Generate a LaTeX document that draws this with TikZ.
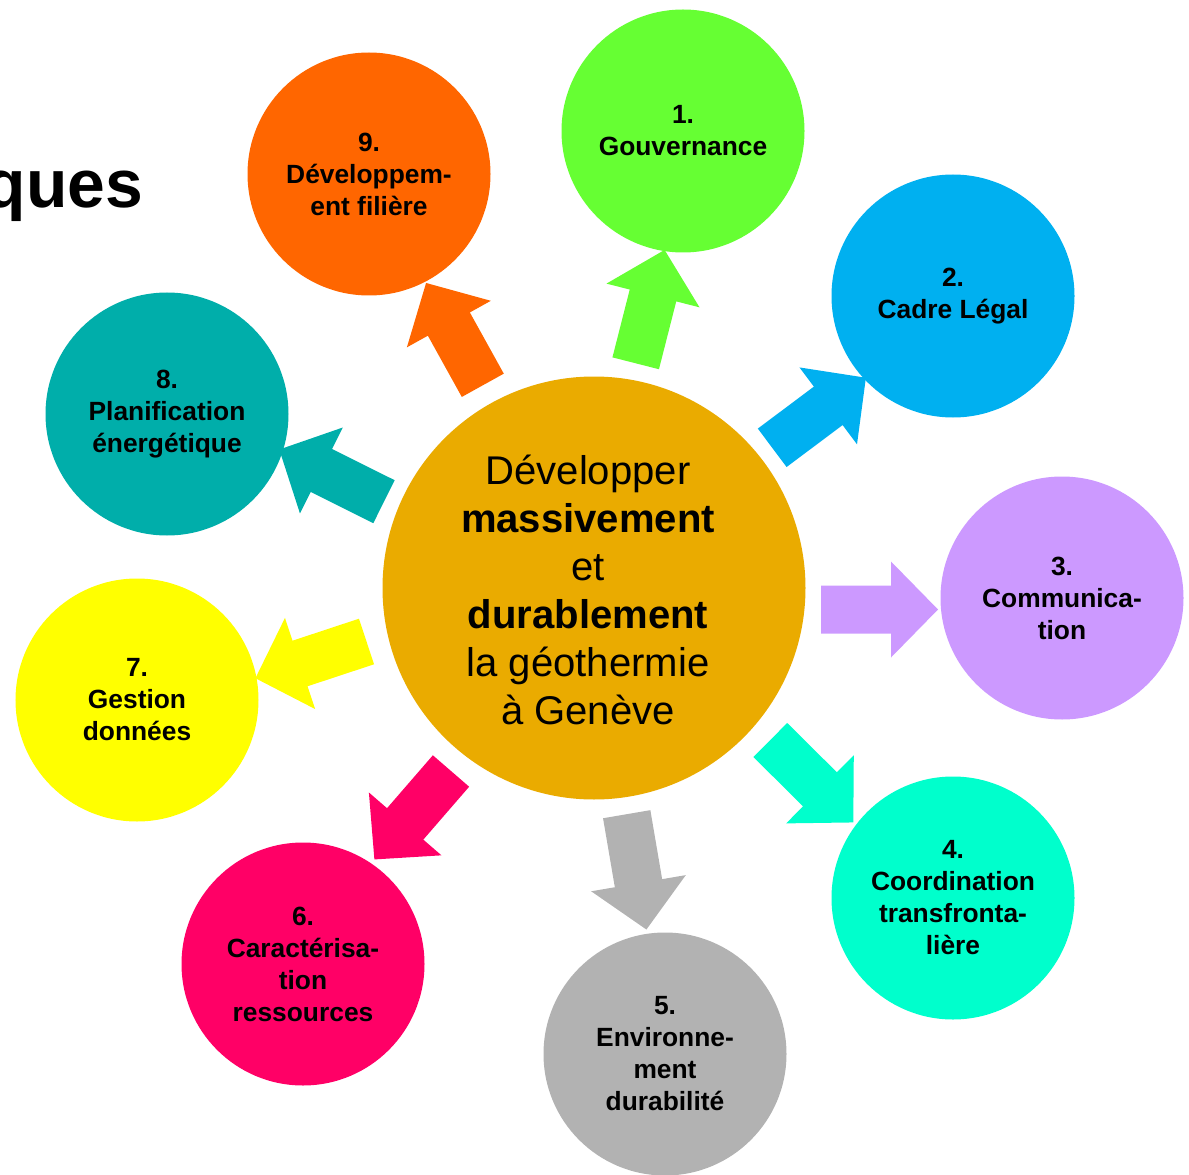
\documentclass[tikz,border=0pt]{standalone}
\usepackage{fontspec}
\setmainfont{Liberation Sans}

\definecolor{govgreen}{HTML}{66FF33}
\definecolor{lawblue}{HTML}{00B0F0}
\definecolor{compurple}{HTML}{CC99FF}
\definecolor{coordcyan}{HTML}{00FFCC}
\definecolor{envgray}{HTML}{B2B2B2}
\definecolor{respink}{HTML}{FF0066}
\definecolor{datayellow}{HTML}{FFFF00}
\definecolor{planteal}{HTML}{00AEAA}
\definecolor{devorange}{HTML}{FF6600}
\definecolor{goalgold}{HTML}{EAAB00}

\begin{document}
\begin{tikzpicture}[
    topic/.style={circle, inner sep=0pt, minimum size=2.43cm, align=center,
      font=\fontsize{7.5pt}{9.1pt}\selectfont\bfseries},
    goalcircle/.style={circle, inner sep=0pt, minimum size=4.23cm, fill=goalgold},
    goaltext/.style={inner sep=0pt, align=center, font=\fontsize{11.4pt}{13.66pt}\selectfont}
  ]
        \useasboundingbox (0,0) rectangle (11.89,-11.75);

        % Title fragment, cut by the left border
        \node[anchor=base east, inner sep=0pt,
          font=\fontsize{19.3pt}{23pt}\selectfont\bfseries] (title) at (1.44,-2.08) {ques};

        % Block arrows from the goal outwards
        \foreach \col/\x/\y/\ang in {govgreen/6.357/-3.633/75.7, lawblue/7.722/-4.478/36.8,
            compurple/8.21/-6.095/0, coordcyan/7.703/-7.40/-44.8, envgray/6.267/-8.142/-80.3,
            respink/4.51/-7.71/-130.9, datayellow/3.665/-6.415/198.3,
            planteal/3.84/-5.017/153.5, devorange/4.828/-3.853/119.0}
          \fill[\col, shift={(\x,\y)}, rotate=\ang]
            (0,-0.24) -- (0.70,-0.24) -- (0.70,-0.48) -- (1.17,0)
            -- (0.70,0.48) -- (0.70,0.24) -- (0,0.24) -- cycle;

        % Central goal
        \node[goalcircle] (goal) at (5.94,-5.88) {};
        \node[goaltext] (goallabel) at (5.88,-5.90)
          {Développer\\\textbf{massivement}\\et\\\textbf{durablement}\\la géothermie\\à Genève};

        % Topic circles
        \node[topic, fill=govgreen] (gov) at (6.83,-1.31) {1.\\Gouvernance};
        \node[topic, fill=lawblue] (law) at (9.53,-2.96) {2.\\Cadre Légal};
        \node[topic, fill=compurple] (com) at (10.62,-5.98) {3.\\Communica-\\tion};
        \node[topic, fill=coordcyan] (coord) at (9.53,-8.98) {4.\\Coordination\\transfronta-\\lière};
        \node[topic, fill=envgray] (env) at (6.65,-10.54) {5.\\Environne-\\ment\\durabilité};
        \node[topic, fill=respink] (res) at (3.03,-9.64) {6.\\Caractérisa-\\tion\\ressources};
        \node[topic, fill=datayellow] (data) at (1.37,-7.00) {7.\\Gestion\\données};
        \node[topic, fill=planteal] (plan) at (1.67,-4.14) {8.\\Planification\\énergétique};
        \node[topic, fill=devorange] (dev) at (3.69,-1.74) {9.\\Développem-\\ent filière};

    \end{tikzpicture}
\end{document}
